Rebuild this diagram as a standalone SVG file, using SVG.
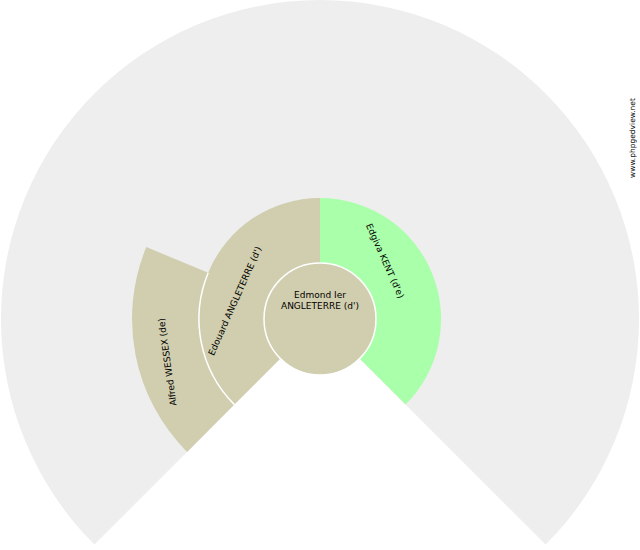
<svg xmlns="http://www.w3.org/2000/svg" width="640" height="550" viewBox="0 0 640 550">
<style>
.t{font-family:"DejaVu Sans","Liberation Sans",sans-serif;font-size:9px;fill:#000;text-anchor:middle}
.m{font-family:"DejaVu Sans","Liberation Sans",sans-serif;font-size:7.5px;fill:#000;text-anchor:middle}
.tan{fill:#D0CEAE}
.grn{fill:#AAFFAA}
</style>
<rect width="640" height="550" fill="#FFFFFF"/>
<g id="background">
<path d="M320,319 L94.4,544.6 A319,319 0 1 1 545.6,544.6 Z" fill="#EEEEEE"/>
</g>
<g id="node-alfred">
<path class="tan" d="M187.1,451.9 A188,188 0 0 1 146.3,247.1 L208.2,272.7 A121,121 0 0 0 234.4,404.6 Z"/>
<text class="t" transform="translate(167.5,362) rotate(-98)" dy="3">Alfred WESSEX (de)</text>
</g>
<g id="node-edouard">
<path class="tan" d="M234.4,404.6 A121,121 0 0 1 320,198 L320,263 A56,56 0 0 0 280.4,358.6 Z"/>
<text class="t" transform="translate(235,301) rotate(-66)" dy="3">Edouard ANGLETERRE (d')</text>
</g>
<g id="node-edgiva">
<path class="grn" d="M320,198 A121,121 0 0 1 405.6,404.6 L359.6,358.6 A56,56 0 0 0 320,263 Z"/>
<text class="t" transform="translate(385,261) rotate(66)" dy="3">Edgiva KENT (d'e)</text>
</g>
<g id="connectors">
<path d="M234.4,404.6 A121,121 0 0 1 208.2,272.7" fill="none" stroke="#FFFFFF" stroke-width="1.5"/>
</g>
<g id="node-edmond">
<circle cx="320" cy="319" r="56" class="tan" stroke="#FFFFFF" stroke-width="1.5"/>
<text class="t" x="320" y="298">Edmond Ier</text>
<text class="t" x="320" y="308.5">ANGLETERRE (d')</text>
</g>
<text class="m" transform="translate(635,138) rotate(-90)">www.phpgedview.net</text>
</svg>
